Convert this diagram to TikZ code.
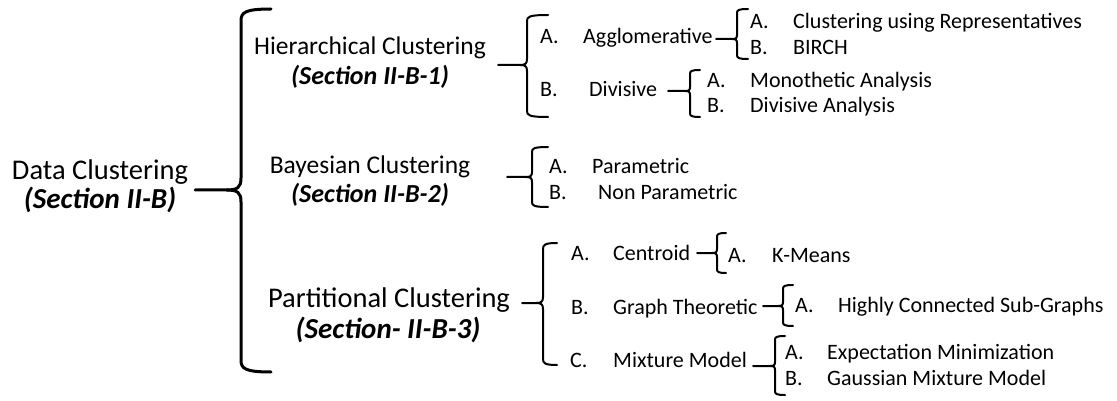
\documentclass[tikz,border=0pt]{standalone}
\usepackage{fontspec}
\setmainfont{Carlito}
\tikzset{
  rt/.style={anchor=base west, inner sep=0pt, font=\fontsize{22}{26}\selectfont},
  mid/.style={anchor=base, inner sep=0pt, font=\fontsize{25.5}{30}\selectfont},
  big/.style={anchor=base, inner sep=0pt, font=\fontsize{28.5}{33}\selectfont},
  sec/.style={anchor=base, inner sep=0pt, font=\fontsize{26}{30}\selectfont\bfseries\itshape},
  bigsec/.style={anchor=base, inner sep=0pt, font=\fontsize{29}{33}\selectfont\bfseries\itshape},
  brc/.style={line width=2pt, line cap=round, line join=round},
  mainbrc/.style={line width=3pt, line cap=round, line join=round},
}
% #1 style, #2 x, #3 top, #4 bottom, #5 stem y, #6 stem left x, #7 tick width, #8 curve size
\newcommand{\clbrace}[8]{%
  \draw[#1] (#2+#7,#3) .. controls (#2+0.3*#8,#3) and (#2,#3+0.3*#8) .. (#2,#3+#8)
     -- (#2,#5-#8) .. controls (#2,#5-0.2*#8) and (#2-0.3*#8,#5) .. (#2-1.2*#8,#5) -- (#6,#5);
  \draw[#1] (#2-1.2*#8,#5) .. controls (#2-0.3*#8,#5) and (#2,#5+0.2*#8) .. (#2,#5+#8)
     -- (#2,#4-#8) .. controls (#2,#4-0.3*#8) and (#2+0.3*#8,#4) .. (#2+#7,#4);
}
\begin{document}
\begin{tikzpicture}[x=1pt,y=-1pt]
\useasboundingbox (0,0) rectangle (1117,401);
% left column
\node[big] (dc) at (100,180) {Data Clustering};
\node[bigsec] (dcs) at (100,208) {(Section II-B)};
% middle column
\node[mid] (hc) at (370,55) {Hierarchical Clustering};
\node[sec] (hcs) at (370,85) {(Section II-B-1)};
\node[mid] (bc) at (370,174) {Bayesian Clustering};
\node[sec] (bcs) at (370,202) {(Section II-B-2)};
\node[big] (pc) at (389,307) {Partitional Clustering};
\node[bigsec] (pcs) at (388,338) {(Section- II-B-3)};
% hierarchical children
\node[rt] (ha) at (540,44) {A.};
\node[rt] (agg) at (583,44) {Agglomerative};
\node[rt] (hb) at (540,97) {B.};
\node[rt] (div) at (589,97) {Divisive};
\node[rt] (aga) at (750,29) {A.};
\node[rt] (cur) at (793,29) {Clustering using Representatives};
\node[rt] (agb) at (750,55) {B.};
\node[rt] (bir) at (793,55) {BIRCH};
\node[rt] (dva) at (707,88) {A.};
\node[rt] (mon) at (750,88) {Monothetic Analysis};
\node[rt] (dvb) at (707,113) {B.};
\node[rt] (dan) at (750,113) {Divisive Analysis};
% bayesian children
\node[rt] (ba) at (549,174) {A.};
\node[rt] (par) at (592,174) {Parametric};
\node[rt] (bb) at (549,200) {B.};
\node[rt] (npar) at (598,200) {Non Parametric};
% partitional children
\node[rt] (pa) at (571,260) {A.};
\node[rt] (cen) at (613,260) {Centroid};
\node[rt] (pb) at (571,314) {B.};
\node[rt] (gt) at (613,314) {Graph Theoretic};
\node[rt] (pcc) at (570,367) {C.};
\node[rt] (mm) at (613,367) {Mixture Model};
\node[rt] (cea) at (728,262) {A.};
\node[rt] (km) at (772,262) {K-Means};
\node[rt] (gta) at (795,312) {A.};
\node[rt] (hcsg) at (838,312) {Highly Connected Sub-Graphs};
\node[rt] (mma) at (785,359) {A.};
\node[rt] (em) at (827,359) {Expectation Minimization};
\node[rt] (mmb) at (785,385) {B.};
\node[rt] (gmm) at (827,385) {Gaussian Mixture Model};
% braces
\clbrace{mainbrc}{241}{9}{372}{190}{195}{30}{12}
\clbrace{brc}{527}{15}{117}{65}{498}{21}{6}
\clbrace{brc}{737}{9}{59}{39}{716}{11}{4}
\clbrace{brc}{690}{70}{117}{91}{668}{10}{4}
\clbrace{brc}{532}{147}{207}{177}{507}{16}{5}
\clbrace{brc}{543}{243}{365}{303}{522}{14}{6}
\clbrace{brc}{717}{233}{273}{253}{697}{9}{4}
\clbrace{brc}{783}{285}{326}{306}{763}{10}{4}
\clbrace{brc}{775}{336}{395}{366}{753}{10}{4}
\end{tikzpicture}
\end{document}
